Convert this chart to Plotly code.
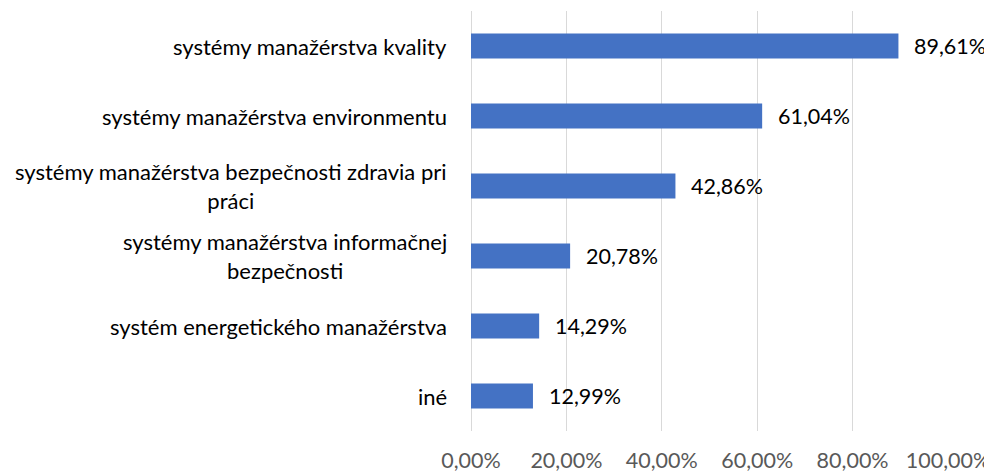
import plotly.graph_objects as go

categories = [
    "systémy manažérstva kvality",
    "systémy manažérstva environmentu",
    "systémy manažérstva bezpečnosti zdravia pri<br>práci",
    "systémy manažérstva informačnej<br>bezpečnosti",
    "systém energetického manažérstva",
    "iné",
]
values = [89.61, 61.04, 42.86, 20.78, 14.29, 12.99]
tick_vals = [0, 20, 40, 60, 80, 100]
tick_text = ["0,00%", "20,00%", "40,00%", "60,00%", "80,00%", "100,00%"]

FONT = "Lato"
ids = list(range(len(categories)))

fig = go.Figure(go.Bar(
    x=values, y=ids, orientation="h",
    marker=dict(color="#4472C4", line=dict(width=0)),
    width=0.355,
))

for i, (c, v) in enumerate(zip(categories, values)):
    fig.add_annotation(x=0, xref="paper", y=i, yref="y", text=c,
                       xanchor="right", yanchor="middle", align="center",
                       xshift=-22, showarrow=False,
                       font=dict(family=FONT, size=22, color="#000000"))
    fig.add_annotation(x=v, xref="x", y=i, yref="y",
                       text=f"{v:.2f}".replace(".", ",") + "%",
                       xanchor="left", yanchor="middle", xshift=14, showarrow=False,
                       font=dict(family=FONT, size=21.5, color="#000000"))

# page body has an 8px margin, so the figure is sized/offset to compensate
fig.update_layout(
    width=984, height=464,
    margin=dict(l=463, r=44, t=3, b=41),
    plot_bgcolor="white", paper_bgcolor="white",
    showlegend=False,
    xaxis=dict(range=[0, 100], tickvals=tick_vals, ticktext=tick_text,
               automargin=False,
               showgrid=True, gridcolor="#D9D9D9", gridwidth=1.3,
               zeroline=True, zerolinecolor="#D9D9D9", zerolinewidth=1.3,
               showline=False, ticks="", ticklabelstandoff=14,
               tickfont=dict(family=FONT, size=21.5, color="#595959")),
    yaxis=dict(range=[5.5, -0.5], showticklabels=False, showgrid=False,
               zeroline=False, showline=False, automargin=False),
)

fig.write_html("out.html")
